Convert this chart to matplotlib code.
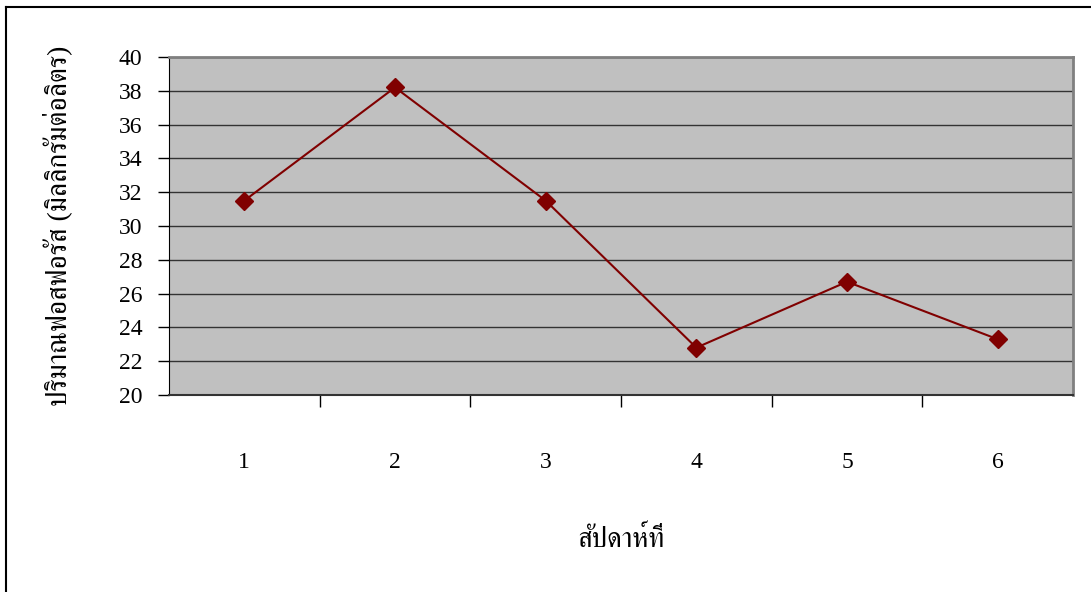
import matplotlib.pyplot as plt
from matplotlib.lines import Line2D

weeks = [1, 2, 3, 4, 5, 6]
phosphorus = [31.5, 38.2, 31.5, 22.8, 26.7, 23.3]
y_ticks = [20, 22, 24, 26, 28, 30, 32, 34, 36, 38, 40]

# Liberation Serif for digits, FreeSerif for the Thai text
plt.rcParams['font.family'] = ['Liberation Serif', 'FreeSerif']

fig = plt.figure(figsize=(10.91, 5.92), dpi=100)
ax = fig.add_axes([0.1549, 0.3328, 0.8286, 0.5709])
ax.set_facecolor('#c0c0c0')

ax.plot(weeks, phosphorus, color='#800000', lw=1.5, marker='D', ms=9,
        markerfacecolor='#800000', markeredgecolor='#800000')

ax.set_xlim(0.5, 6.5)
ax.set_ylim(20, 40)
ax.set_yticks(y_ticks)
ax.set_xticks([1.5, 2.5, 3.5, 4.5, 5.5])
ax.set_xticks(weeks, minor=True)
ax.set_xticklabels([])
ax.set_xticklabels([str(w) for w in weeks], minor=True)
ax.tick_params(axis='x', which='major', direction='out', length=8.5, width=1, color='black')
ax.tick_params(axis='x', which='minor', length=0, pad=41, labelsize=17)
ax.tick_params(axis='y', direction='out', length=8, width=1, labelsize=17, pad=11)
ax.grid(axis='y', color='#333333', lw=1)
ax.set_axisbelow(True)

for s in ['top', 'right']:
    ax.spines[s].set_color('#808080')
    ax.spines[s].set_linewidth(2)
ax.spines['left'].set_color('black')
ax.spines['bottom'].set_color('#333333')
ax.spines['bottom'].set_linewidth(1.5)

ax.set_ylabel('ปริมาณฟอสฟอรัส (มิลลิกรัมต่อลิตร)', fontsize=20, labelpad=34)
fig.text(0.569, 0.088, 'สัปดาห์ที่', fontsize=20, ha='center', va='center')

# outer chart frame (cut at right/bottom)
fig.add_artist(Line2D([0.0055, 1.0], [0.988, 0.988], color='black', lw=1.5))
fig.add_artist(Line2D([0.0055, 0.0055], [0.0, 0.988], color='black', lw=1.5))

fig.savefig('out.png', dpi=100)
